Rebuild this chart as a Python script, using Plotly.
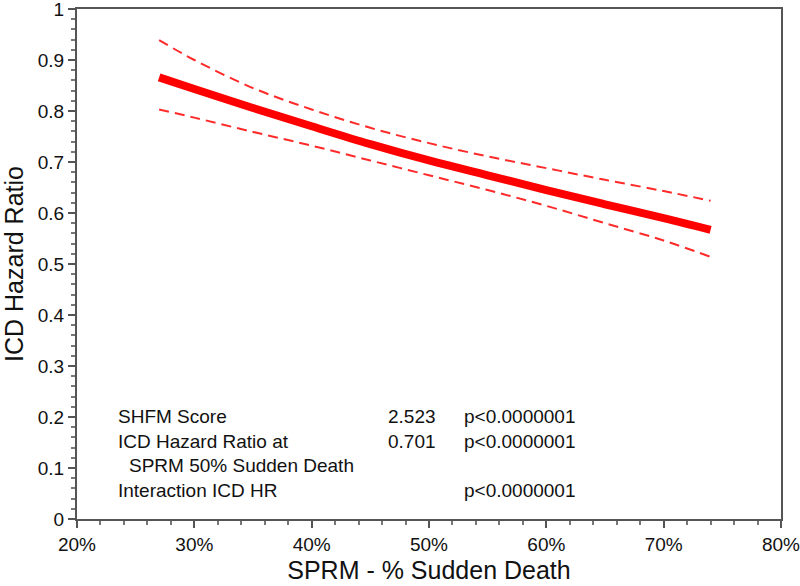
import plotly.graph_objects as go

# SPRM - % Sudden Death (x, in %)
sprm_pct = [27, 30, 35, 40, 45, 50, 55, 60, 65, 70, 74]
# ICD hazard ratio estimate and 95% confidence bounds
hr_mid = [0.866, 0.843, 0.806, 0.770, 0.735, 0.703, 0.674, 0.645, 0.617, 0.590, 0.567]
hr_upper = [0.939, 0.900, 0.845, 0.803, 0.767, 0.737, 0.711, 0.688, 0.665, 0.643, 0.624]
hr_lower = [0.803, 0.787, 0.759, 0.732, 0.703, 0.674, 0.645, 0.614, 0.580, 0.546, 0.514]

x_ticks = [20, 30, 40, 50, 60, 70, 80]
x_tick_labels = ["20%", "30%", "40%", "50%", "60%", "70%", "80%"]
y_ticks = [0, 0.1, 0.2, 0.3, 0.4, 0.5, 0.6, 0.7, 0.8, 0.9, 1]

stats_labels = ["SHFM Score", "ICD Hazard Ratio at", "  SPRM 50% Sudden Death", "Interaction ICD HR"]
stats_values = ["2.523", "0.701", "", ""]
stats_p = ["p<0.0000001", "p<0.0000001", "", "p<0.0000001"]

FONT = "Liberation Sans, Arial, sans-serif"

fig = go.Figure()
fig.add_trace(go.Scatter(x=sprm_pct, y=hr_upper, mode="lines", line=dict(color="#ff2a2a", width=2, dash="10px,6px", shape="spline"), showlegend=False))
fig.add_trace(go.Scatter(x=sprm_pct, y=hr_lower, mode="lines", line=dict(color="#ff2a2a", width=2, dash="10px,6px", shape="spline"), showlegend=False))
fig.add_trace(go.Scatter(x=sprm_pct, y=hr_mid, mode="lines", line=dict(color="#ff0000", width=8, shape="spline"), showlegend=False))

row_y = [416, 441, 465, 490]  # pixel centres
H0, PT = 519, 9
PH = H0 - PT
L0, PW = 77, 704
def px(xp):
    return (xp - L0) / PW
def py(yp):
    return (H0 - yp) / PH

ann = []
for i, lab in enumerate(stats_labels):
    xl = 116 if not lab.startswith("  ") else 127
    ann.append(dict(text=lab.strip(), x=px(xl), y=py(row_y[i]), xref="paper", yref="paper", xanchor="left", yanchor="middle", showarrow=False, font=dict(size=19, color="#111", family=FONT)))
    if stats_values[i]:
        ann.append(dict(text=stats_values[i], x=px(386), y=py(row_y[i]), xref="paper", yref="paper", xanchor="left", yanchor="middle", showarrow=False, font=dict(size=19, color="#111", family=FONT)))
    if stats_p[i]:
        ann.append(dict(text=stats_p[i], x=px(462), y=py(row_y[i]), xref="paper", yref="paper", xanchor="left", yanchor="middle", showarrow=False, font=dict(size=19, color="#111", family=FONT)))

fig.update_layout(
    width=800, height=586,
    margin=dict(l=77, r=19, t=PT, b=67),
    paper_bgcolor="white", plot_bgcolor="white",
    font=dict(family=FONT, size=19, color="#111"),
    annotations=ann,
    xaxis=dict(range=[20, 80], tickvals=x_ticks, ticktext=x_tick_labels, ticks="outside", ticklen=7, tickwidth=1.5,
               tickcolor="#555", showline=True, linecolor="#555", linewidth=2, mirror=True, showgrid=False, zeroline=False,
               minor=dict(ticks="outside", ticklen=4, dtick=2, tickcolor="#777", showgrid=False),
               title=dict(text="SPRM - % Sudden Death", font=dict(size=25, family=FONT), standoff=8),
               tickfont=dict(size=19), automargin=False, ticklabeloverflow="allow"),
    yaxis=dict(range=[0, 1], tickvals=y_ticks, ticks="outside", ticklen=7, tickwidth=1.5,
               tickcolor="#555", showline=True, linecolor="#555", linewidth=2, mirror=True, showgrid=False, zeroline=False,
               minor=dict(ticks="outside", ticklen=4, dtick=0.02, tickcolor="#777", showgrid=False),
               title=dict(text="ICD Hazard Ratio", font=dict(size=25, family=FONT), standoff=8),
               tickfont=dict(size=19), automargin=False, ticklabeloverflow="allow"),
)
fig.write_html("out.html", config={"displayModeBar": False},
               post_script="document.body.style.margin='0';document.body.style.overflow='hidden';")
